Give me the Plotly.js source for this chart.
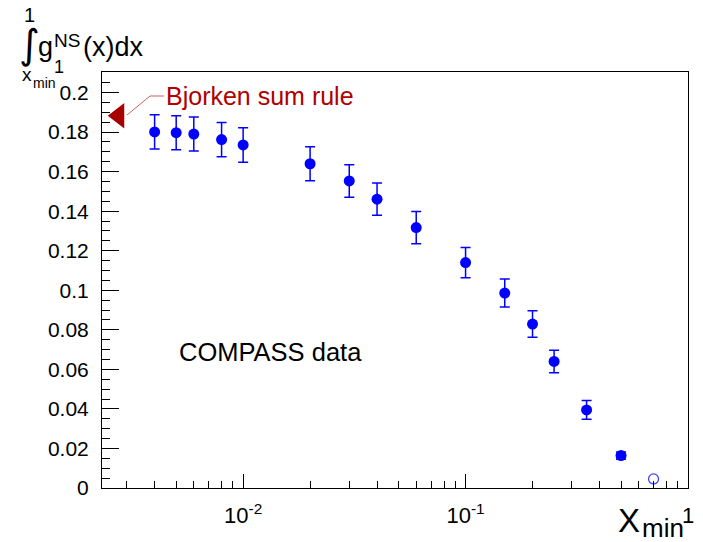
<!DOCTYPE html>
<html>
<head>
<meta charset="utf-8">
<script src="https://cdn.plot.ly/plotly-3.0.1.min.js"></script>
<style>html,body{margin:0;padding:0;background:#fff;}#chart{width:703px;height:542px;}</style>
</head>
<body>
<div id="chart"></div>
<script>
// ---- data ----
const xmin = [0.004, 0.005, 0.006, 0.008, 0.01, 0.02, 0.03, 0.04, 0.06, 0.1, 0.15, 0.2, 0.25, 0.35, 0.5];
const integral = [0.1801, 0.1797, 0.1790, 0.1762, 0.1735, 0.1640, 0.1553, 0.1461, 0.1317, 0.1140, 0.0986, 0.0829, 0.0640, 0.0395, 0.0164];
const errors = [0.0087, 0.0086, 0.0086, 0.0087, 0.0087, 0.0086, 0.0082, 0.0082, 0.0082, 0.0077, 0.0071, 0.0067, 0.0057, 0.0047, 0.0018];
const openX = [0.7];
const openY = [0.0046];
const bjorkenValue = [0.1883];
const bjorkenX = [0.00276];

const xTickVals = [0.01, 0.1, 1];
const xTickText = ['10<sup>-2</sup>', '10<sup>-1</sup>', '1'];
const xMinorVals = [0.003,0.004,0.005,0.006,0.007,0.008,0.009,0.02,0.03,0.04,0.05,0.06,0.07,0.08,0.09,0.2,0.3,0.4,0.5,0.6,0.7,0.8,0.9];
const yTickVals = [0, 0.02, 0.04, 0.06, 0.08, 0.1, 0.12, 0.14, 0.16, 0.18, 0.2];
const yTickText = ['0', '0.02', '0.04', '0.06', '0.08', '0.1', '0.12', '0.14', '0.16', '0.18', '0.2'];

const FONT = 'Liberation Sans, Arial, Helvetica, sans-serif';
const DARKRED = '#a80000';

const traces = [
  {
    x: xmin, y: integral, type: 'scatter', mode: 'markers',
    marker: {color: '#0000ff', size: 11, symbol: 'circle'},
    error_y: {type: 'data', array: errors, visible: true, color: '#0000ff', thickness: 1.5, width: 5},
    hoverinfo: 'x+y', showlegend: false
  },
  {
    x: openX, y: openY, type: 'scatter', mode: 'markers',
    marker: {color: '#4444ff', size: 10, symbol: 'circle-open', line: {width: 1.3, color: '#4444ff'}},
    showlegend: false
  },
  {
    x: bjorkenX, y: bjorkenValue, type: 'scatter', mode: 'markers',
    marker: {color: DARKRED, size: 22, symbol: 'triangle-left'},
    cliponaxis: false, showlegend: false, hoverinfo: 'y'
  }
];

function px(x) { return (x - 102) / 586; }
function py(y) { return (488 - y) / 416; }

function ann(text, x, y, size, opts) {
  return Object.assign({
    text: text, xref: 'paper', yref: 'paper', x: px(x), y: py(y),
    xanchor: 'left', yanchor: 'middle', showarrow: false, borderpad: 0,
    font: {family: FONT, size: size, color: '#000'}
  }, opts || {});
}

const annotations = [
  ann('Bjorken sum rule', 165, 96, 25, {font: {family: FONT, size: 25, color: '#b00000'}}),
  ann('COMPASS data', 178, 352, 25.5),
  // y-axis title pieces
  ann('\u222B', 18, 44, 40, {font: {family: 'DejaVu Sans, sans-serif', size: 40, color: '#000'}}),
  ann('1', 23, 15, 20),
  ann('x', 21, 74, 19),
  ann('min', 32, 83, 14),
  ann('g', 37, 47, 27),
  ann('NS', 53, 40, 19),
  ann('1', 53, 67, 18),
  ann('(x)dx', 82, 47, 27),
  // x-axis title pieces
  ann('X', 617, 520, 33),
  ann('min', 641, 528, 26)
];

const layout = {
  width: 703, height: 542,
  margin: {l: 102, r: 15, t: 72, b: 54, pad: 0},
  paper_bgcolor: '#fff', plot_bgcolor: '#fff',
  font: {family: FONT, color: '#000'},
  showlegend: false,
  xaxis: {
    type: 'log', range: [Math.log10(0.00232), 0],
    tickmode: 'array', tickvals: xTickVals, ticktext: xTickText,
    ticks: 'inside', ticklen: 14, tickwidth: 1, tickcolor: '#000',
    showline: true, linecolor: '#000', linewidth: 1, mirror: true,
    showgrid: false, zeroline: false,
    tickfont: {family: FONT, size: 22, color: '#000'},
    ticklabelstandoff: 8,
    minor: {tickmode: 'array', tickvals: xMinorVals, ticks: 'inside', ticklen: 7, tickwidth: 1, tickcolor: '#000', showgrid: false}
  },
  yaxis: {
    range: [0, 0.2104],
    tickmode: 'array', tickvals: yTickVals, ticktext: yTickText,
    ticks: 'inside', ticklen: 17, tickwidth: 1, tickcolor: '#000',
    showline: true, linecolor: '#000', linewidth: 1, mirror: true,
    showgrid: false, zeroline: false,
    tickfont: {family: FONT, size: 21, color: '#000'},
    ticklabelstandoff: 8,
    minor: {dtick: 0.005, tick0: 0, ticks: 'inside', ticklen: 8, tickwidth: 1, tickcolor: '#000', showgrid: false}
  },
  shapes: [
    {type: 'path', xref: 'paper', yref: 'paper',
     path: 'M ' + px(127) + ' ' + py(115) + ' L ' + px(150) + ' ' + py(96) + ' L ' + px(164) + ' ' + py(96),
     line: {color: '#c86464', width: 1}}
  ],
  annotations: annotations
};

Plotly.newPlot('chart', traces, layout, {displayModeBar: false, staticPlot: true});
</script>
</body>
</html>
